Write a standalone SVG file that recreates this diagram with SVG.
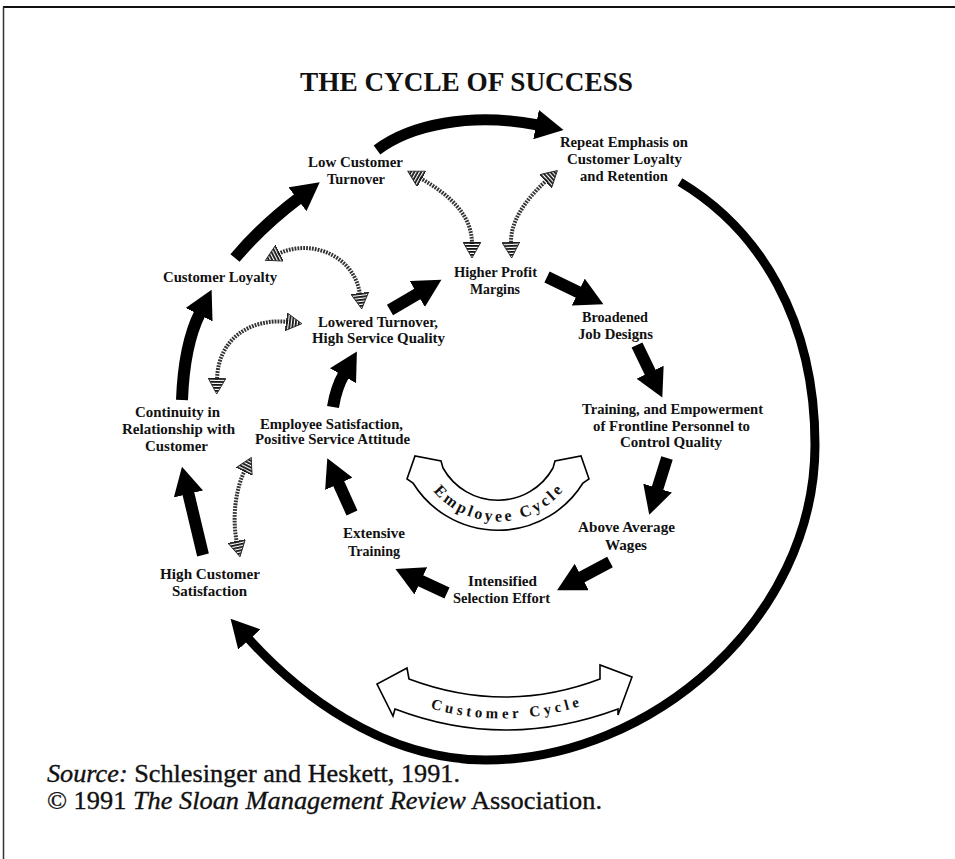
<svg xmlns="http://www.w3.org/2000/svg" width="955" height="859" viewBox="0 0 955 859">
  <style>
    .lbl { font-family: "Liberation Serif", "Times New Roman", serif; font-size: 14px; font-weight: bold; fill: #111; text-anchor: middle; }
    .title { font-family: "Liberation Serif", "Times New Roman", serif; font-size: 28px; font-weight: bold; fill: #111; }
    .foot { font-family: "Liberation Serif", "Times New Roman", serif; font-size: 26px; fill: #111; stroke: #111; stroke-width: 0.35; }
    .band { font-family: "Liberation Serif", "Times New Roman", serif; font-weight: bold; fill: #111; }
    .thick { fill: none; stroke: #000; stroke-width: 12; marker-end: url(#ah); }
    .ring { fill: none; stroke: #000; stroke-width: 9; marker-end: url(#ah); }
    .hatch { fill: none; stroke: #333; stroke-width: 4; stroke-dasharray: 1.8 1.1; marker-start: url(#hh); marker-end: url(#hh); }
    .hollow { fill: #fff; stroke: #000; stroke-width: 1.6; stroke-linejoin: miter; }
  </style>
  <defs>
    <marker id="ah" viewBox="0 0 30 30" markerUnits="userSpaceOnUse" markerWidth="30" markerHeight="30" refX="2" refY="15" orient="auto">
      <path d="M0,0 L28,15 L0,30 Z" fill="#000"/>
    </marker>
    <pattern id="hatchfill" width="3" height="3" patternUnits="userSpaceOnUse">
      <rect width="1.8" height="3" fill="#111"/>
    </pattern>
    <marker id="hh" viewBox="0 0 18 18" markerUnits="userSpaceOnUse" markerWidth="18" markerHeight="18" refX="2" refY="9" orient="auto-start-reverse">
      <path d="M0,0 L16,9 L0,18 Z" fill="url(#hatchfill)" stroke="#222" stroke-width="0.9"/>
    </marker>
  </defs>

  <rect x="0" y="0" width="955" height="859" fill="#fff"/>
  <!-- page frame -->
  <line x1="3" y1="7" x2="955" y2="7" stroke="#111" stroke-width="2"/>
  <line x1="3.5" y1="7" x2="3.5" y2="859" stroke="#333" stroke-width="1.5"/>

  <text class="title" x="300" y="91" textLength="333" lengthAdjust="spacingAndGlyphs">THE CYCLE OF SUCCESS</text>

  <!-- connectors -->
  <g id="connectors">
    <!-- customer-side ring -->
    <path class="thick" style="stroke-width:11" d="M377,150 C410,125 470,112 538,125"/>
    <path class="ring" d="M680,182 C760,230 815,320 815,445 C815,620 650,760 486,760 C380,760 295,690 248,638"/>
    <path class="thick" d="M203,555 L188,492"/>
    <path class="thick" d="M182,400 Q184,345 200,313"/>
    <path class="thick" d="M235,258 Q262,226 299,198"/>
    <!-- employee-side chain -->
    <path class="thick" d="M547,277 L580,293"/>
    <path class="thick" d="M637,345 L651,374"/>
    <path class="thick" d="M667,458 L657,490"/>
    <path class="thick" d="M610,562 L580,578"/>
    <path class="thick" d="M447,593 L419,580"/>
    <path class="thick" d="M352,513 L338,482"/>
    <path class="thick" d="M333,407 Q336,388 344,374"/>
    <path class="thick" d="M390,310 L419,293"/>
    <!-- hatched links between the two cycles -->
    <path class="hatch" d="M420,178 C450,195 472,215 472,244"/>
    <path class="hatch" d="M547,180 C525,200 510,222 511,244"/>
    <path class="hatch" d="M278,254 C310,238 355,255 360,295"/>
    <path class="hatch" d="M288,322 C255,318 218,335 217,380"/>
    <path class="hatch" d="M245,470 C235,490 232,520 237,543"/>
  </g>

  <!-- cycle labels -->
  <g id="employee-cycle">
    <path class="hollow" d="M443,468 L441,461 L415,456 L407,479 L413,483 A100,100 0 0 0 583,483 L589,479 L581,456 L555,461 L553,468 A63,63 0 0 1 443,468 Z"/>
    <path id="empArc" d="M418,463 A84,84 0 0 0 578,463" fill="none"/>
    <text class="band" font-size="16"><textPath href="#empArc" startOffset="50%" text-anchor="middle" textLength="148" lengthAdjust="spacing">Employee Cycle</textPath></text>
  </g>
  <g id="customer-cycle">
    <path class="hollow" d="M409,679 L407,668 L377,684 L393,716 L395,709 Q505,751 618,709 L618,715 L632,677 L600,665 L600,679 Q505,715 409,679 Z"/>
    <path id="custArc" d="M420,705 Q503,733 590,703" fill="none"/>
    <text class="band" font-size="15"><textPath href="#custArc" startOffset="50%" text-anchor="middle" textLength="152" lengthAdjust="spacing">Customer Cycle</textPath></text>
  </g>

  <!-- nodes -->
  <g id="low-customer-turnover">
    <text class="lbl" x="355.5" y="167" textLength="95" lengthAdjust="spacingAndGlyphs">Low Customer</text>
    <text class="lbl" x="356" y="184" textLength="58" lengthAdjust="spacingAndGlyphs">Turnover</text>
  </g>
  <g id="repeat-emphasis">
    <text class="lbl" x="624" y="147" textLength="128" lengthAdjust="spacingAndGlyphs">Repeat Emphasis on</text>
    <text class="lbl" x="624.5" y="164" textLength="115" lengthAdjust="spacingAndGlyphs">Customer Loyalty</text>
    <text class="lbl" x="624" y="181" textLength="88" lengthAdjust="spacingAndGlyphs">and Retention</text>
  </g>
  <g id="higher-profit-margins">
    <text class="lbl" x="495.5" y="277" textLength="83" lengthAdjust="spacingAndGlyphs">Higher Profit</text>
    <text class="lbl" x="495" y="294" textLength="50" lengthAdjust="spacingAndGlyphs">Margins</text>
  </g>
  <g id="customer-loyalty">
    <text class="lbl" x="220" y="282" textLength="114" lengthAdjust="spacingAndGlyphs">Customer Loyalty</text>
  </g>
  <g id="lowered-turnover">
    <text class="lbl" x="378" y="327" textLength="120" lengthAdjust="spacingAndGlyphs">Lowered Turnover,</text>
    <text class="lbl" x="378.5" y="343" textLength="133" lengthAdjust="spacingAndGlyphs">High Service Quality</text>
  </g>
  <g id="continuity">
    <text class="lbl" x="177.5" y="417" textLength="85" lengthAdjust="spacingAndGlyphs">Continuity in</text>
    <text class="lbl" x="178.5" y="434" textLength="113" lengthAdjust="spacingAndGlyphs">Relationship with</text>
    <text class="lbl" x="176.5" y="451" textLength="63" lengthAdjust="spacingAndGlyphs">Customer</text>
  </g>
  <g id="employee-satisfaction">
    <text class="lbl" x="331.5" y="429" textLength="143" lengthAdjust="spacingAndGlyphs">Employee Satisfaction,</text>
    <text class="lbl" x="332.5" y="444" textLength="155" lengthAdjust="spacingAndGlyphs">Positive Service Attitude</text>
  </g>
  <g id="broadened-job-designs">
    <text class="lbl" x="615" y="322" textLength="66" lengthAdjust="spacingAndGlyphs">Broadened</text>
    <text class="lbl" x="615.5" y="339" textLength="75" lengthAdjust="spacingAndGlyphs">Job Designs</text>
  </g>
  <g id="training-empowerment">
    <text class="lbl" x="672.5" y="414" textLength="181" lengthAdjust="spacingAndGlyphs">Training, and Empowerment</text>
    <text class="lbl" x="671.5" y="431" textLength="157" lengthAdjust="spacingAndGlyphs">of Frontline Personnel to</text>
    <text class="lbl" x="671" y="447" textLength="102" lengthAdjust="spacingAndGlyphs">Control Quality</text>
  </g>
  <g id="above-average-wages">
    <text class="lbl" x="626.5" y="532" textLength="97" lengthAdjust="spacingAndGlyphs">Above Average</text>
    <text class="lbl" x="626" y="550" textLength="42" lengthAdjust="spacingAndGlyphs">Wages</text>
  </g>
  <g id="intensified-selection">
    <text class="lbl" x="502.5" y="586" textLength="69" lengthAdjust="spacingAndGlyphs">Intensified</text>
    <text class="lbl" x="501.5" y="603" textLength="97" lengthAdjust="spacingAndGlyphs">Selection Effort</text>
  </g>
  <g id="extensive-training">
    <text class="lbl" x="374" y="538" textLength="62" lengthAdjust="spacingAndGlyphs">Extensive</text>
    <text class="lbl" x="374" y="556" textLength="52" lengthAdjust="spacingAndGlyphs">Training</text>
  </g>
  <g id="high-customer-satisfaction">
    <text class="lbl" x="210" y="579" textLength="100" lengthAdjust="spacingAndGlyphs">High Customer</text>
    <text class="lbl" x="209.5" y="596" textLength="75" lengthAdjust="spacingAndGlyphs">Satisfaction</text>
  </g>

  <!-- credits -->
  <text class="foot" x="47" y="782" textLength="413" lengthAdjust="spacingAndGlyphs"><tspan font-style="italic">Source:</tspan> Schlesinger and Heskett, 1991.</text>
  <text class="foot" x="47" y="809" textLength="555" lengthAdjust="spacingAndGlyphs">© 1991 <tspan font-style="italic">The Sloan Management Review</tspan> Association.</text>
</svg>
